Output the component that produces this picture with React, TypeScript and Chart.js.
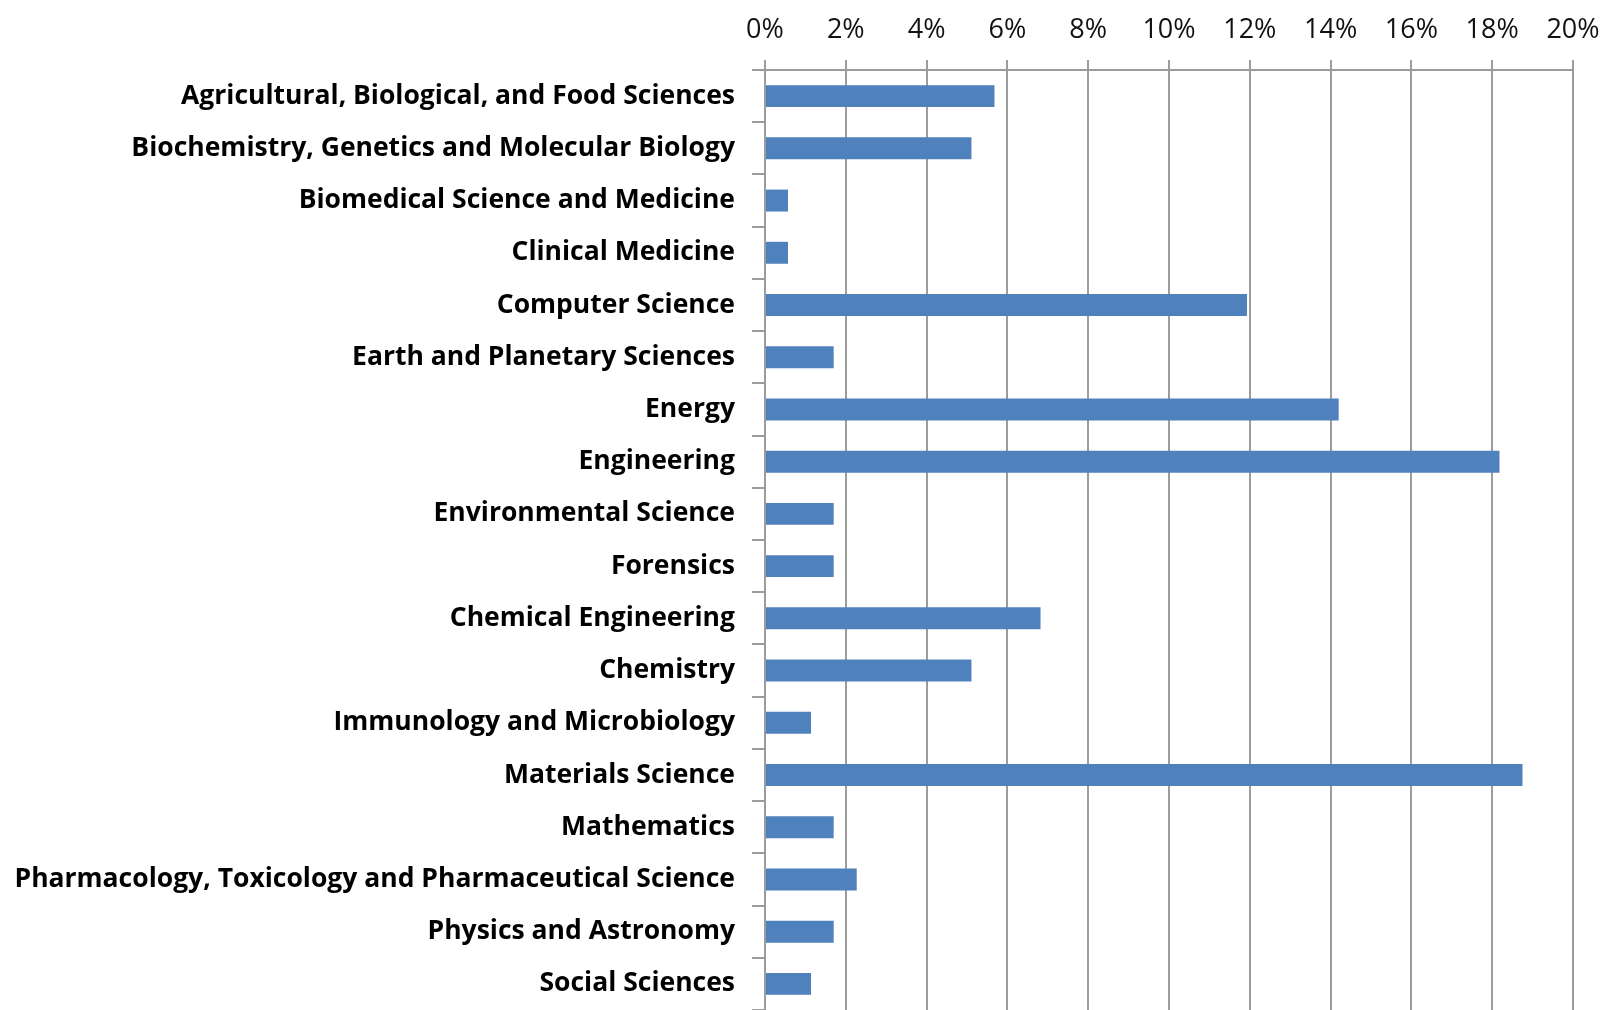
import React, { useEffect, useRef } from "react";
import { Chart, registerables } from "chart.js";

Chart.register(...registerables);

const categories: string[] = [
  "Agricultural, Biological, and Food Sciences",
  "Biochemistry, Genetics and Molecular Biology",
  "Biomedical Science and Medicine",
  "Clinical Medicine",
  "Computer Science",
  "Earth and Planetary Sciences",
  "Energy",
  "Engineering",
  "Environmental Science",
  "Forensics",
  "Chemical Engineering",
  "Chemistry",
  "Immunology and Microbiology",
  "Materials Science",
  "Mathematics",
  "Pharmacology, Toxicology and Pharmaceutical Science",
  "Physics and Astronomy",
  "Social Sciences",
];

const shares: number[] = [
  5.68, 5.11, 0.57, 0.57, 11.93, 1.7, 14.2, 18.18, 1.7, 1.7, 6.82, 5.11, 1.14,
  18.75, 1.7, 2.27, 1.7, 1.14,
];

const axisMin = 0;
const axisMax = 20;
const axisStep = 2;

export default function App() {
  const ref = useRef<HTMLCanvasElement | null>(null);

  useEffect(() => {
    document.body.style.margin = "0";
    document.body.style.overflow = "hidden";
    if (!ref.current) return;
    const gridColor = "#9c9c9c";
    const chart = new Chart(ref.current, {
      type: "bar",
      data: {
        labels: categories,
        datasets: [
          {
            data: shares,
            backgroundColor: "#4f81bd",
            borderWidth: 0,
            barPercentage: 0.42,
            categoryPercentage: 1,
          },
        ],
      },
      options: {
        indexAxis: "y",
        animation: false,
        responsive: false,
        maintainAspectRatio: false,
        layout: { padding: { left: 0, right: 31, top: 0, bottom: -1 } },
        plugins: {
          legend: { display: false },
          tooltip: { enabled: false },
        },
        scales: {
          x: {
            position: "top",
            min: axisMin,
            max: axisMax,
            afterFit: (s: any) => {
              s.height = 70;
              s.paddingTop = 0;
              s.paddingBottom = 0;
              s.paddingLeft = 0;
              s.paddingRight = 0;
            },
            ticks: {
              stepSize: axisStep,
              padding: 13,
              color: "#111",
              font: { family: "Open Sans", size: 27 },
              callback: (v: any) => `${v}%`,
            },
            grid: {
              color: gridColor,
              lineWidth: 2,
              tickLength: 10,
              drawTicks: true,
            },
            border: { display: true, color: gridColor, width: 2 },
          },
          y: {
            afterFit: (s: any) => {
              s.width = 765;
              s.paddingTop = 0;
              s.paddingBottom = 0;
            },
            ticks: {
              padding: 17,
              color: "#000",
              font: { family: "Open Sans", size: 26.5, weight: "bold" },
            },
            grid: {
              drawOnChartArea: false,
              drawTicks: true,
              tickLength: 13,
              color: gridColor,
              lineWidth: 2,
              offset: true,
            },
            border: { display: true, color: gridColor, width: 2 },
          },
        },
      },
    });
    return () => chart.destroy();
  }, []);

  return (
    <div style={{ width: 1604, height: 1010 }}>
      <canvas ref={ref} width={1604} height={1010} style={{ display: "block" }} />
    </div>
  );
}
